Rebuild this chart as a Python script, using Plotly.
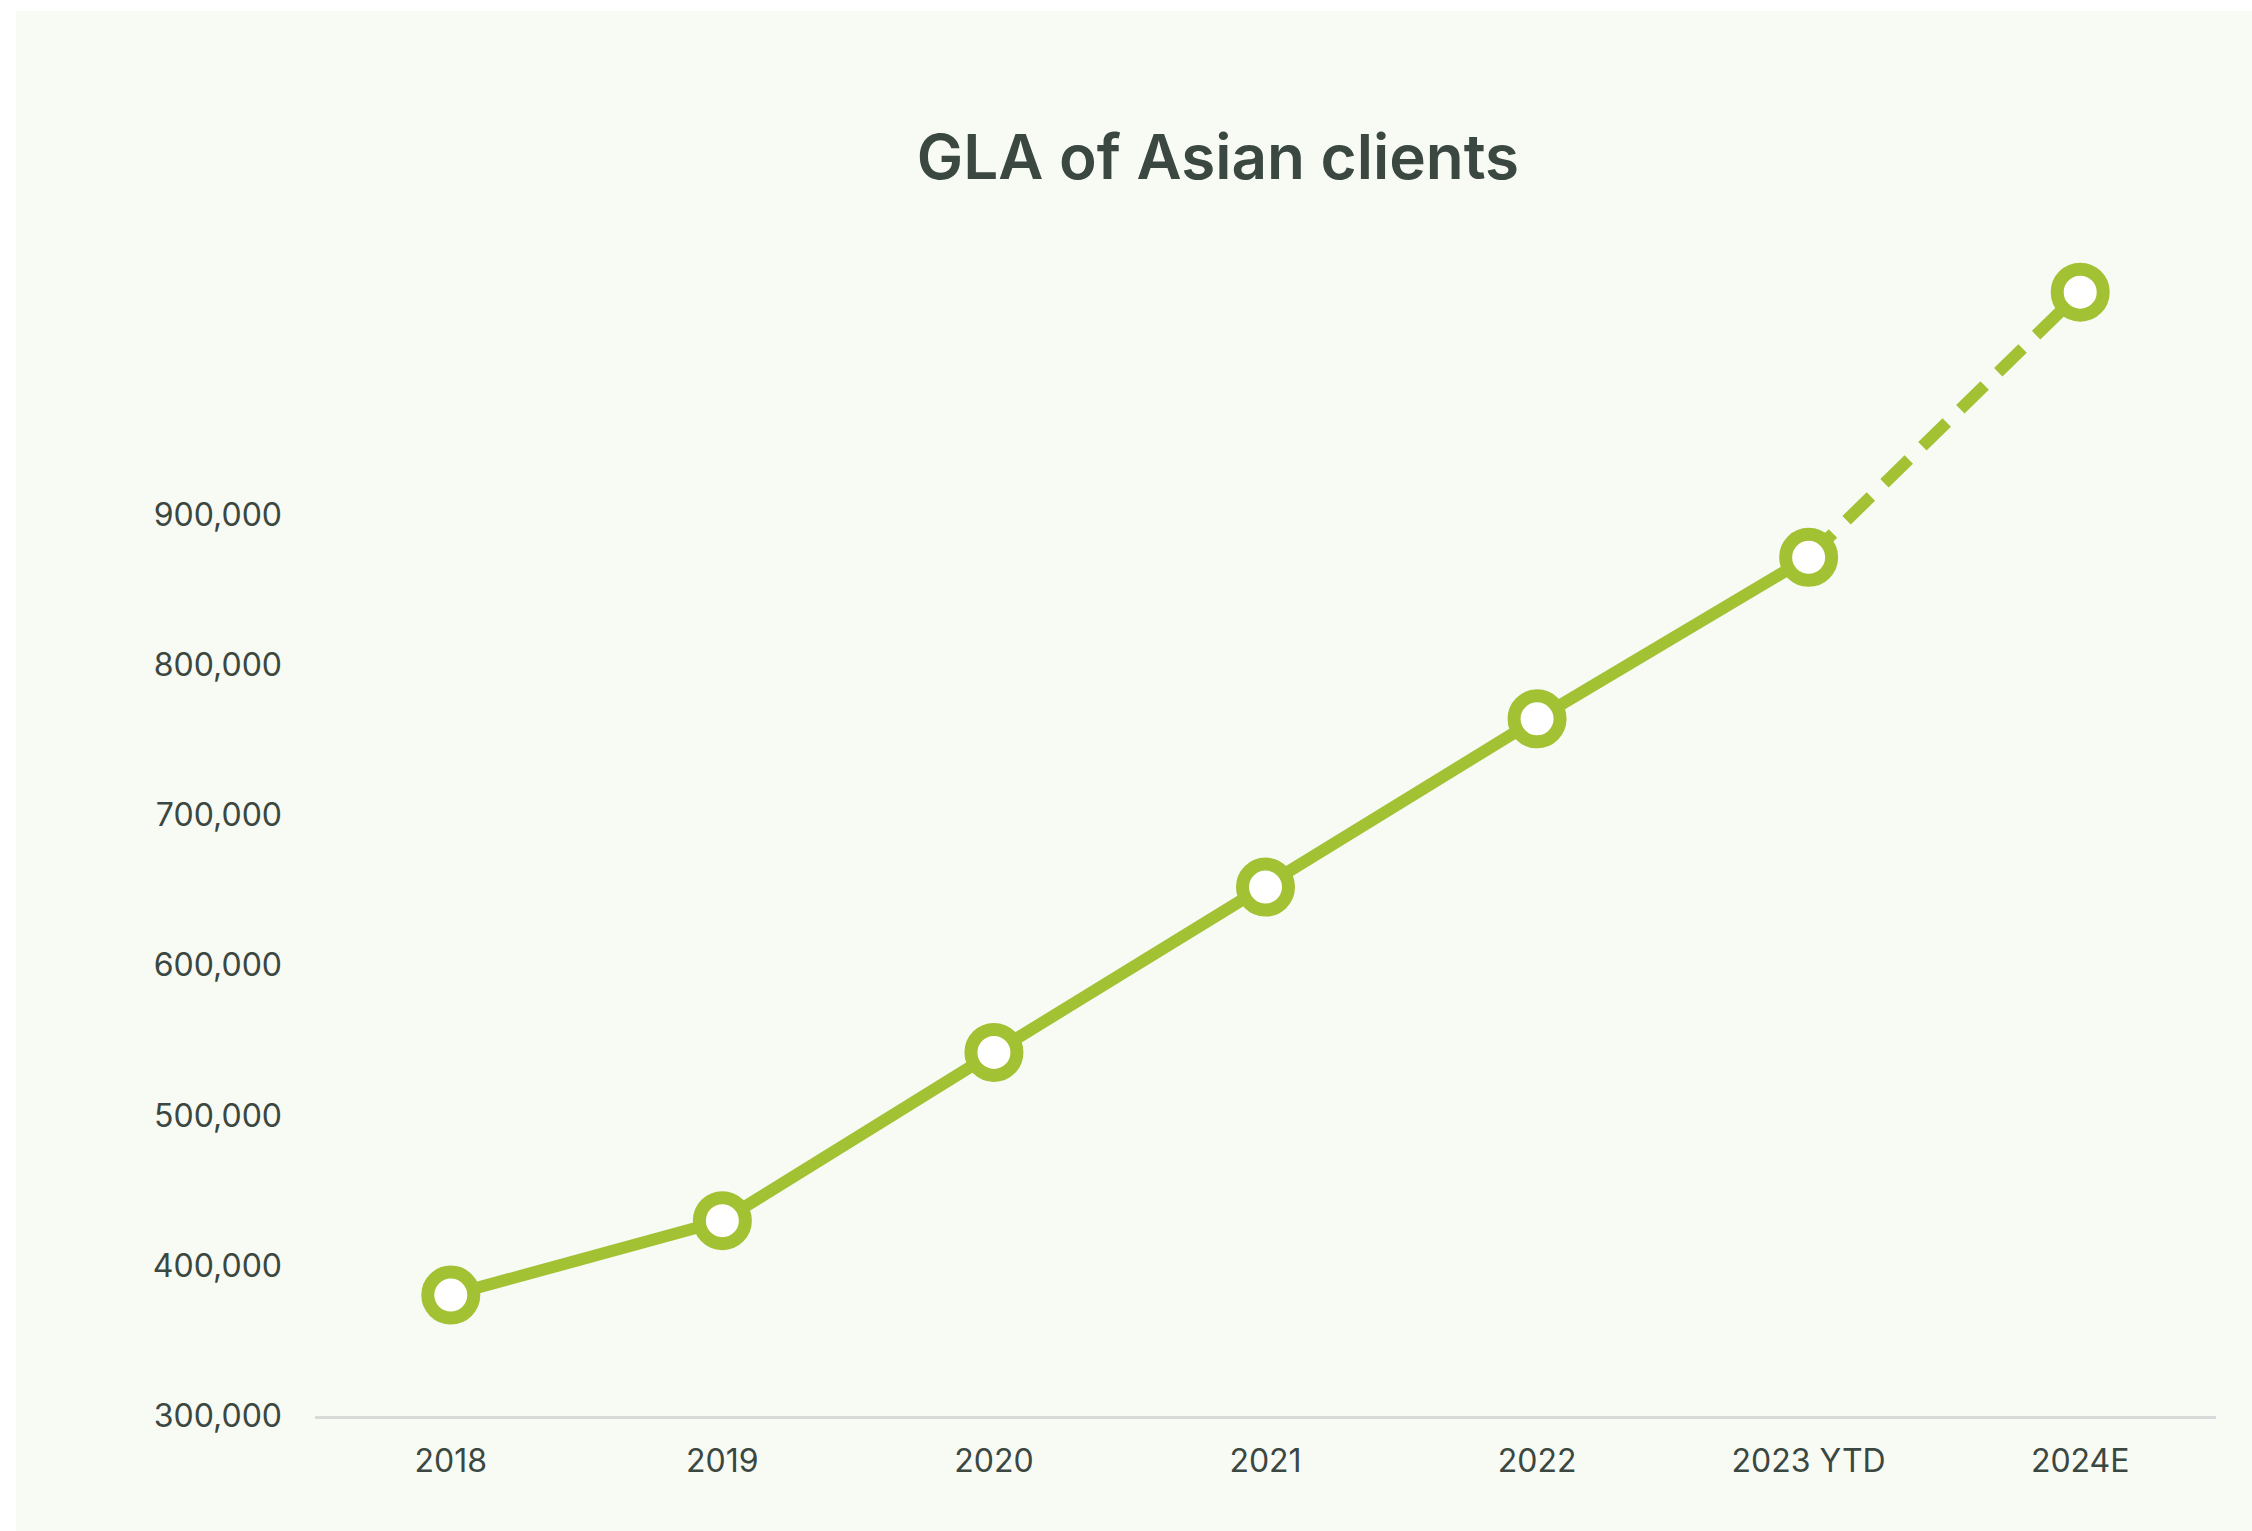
import plotly.graph_objects as go

# Data
years = ["2018", "2019", "2020", "2021", "2022", "2023 YTD", "2024E"]
gla = [380500, 430000, 542000, 652000, 764000, 871500, 1048000]
ytick_vals = [300000, 400000, 500000, 600000, 700000, 800000, 900000]
ytick_text = ["300,000", "400,000", "500,000", "600,000", "700,000", "800,000", "900,000"]
title_text = "GLA of Asian clients"

GREEN = "#a2c133"
TEXT = "#3b4741"
PANEL = "#f8faf4"

W, H = 2252, 1531
ml, mr, mb, mt = 315, 36, 115, 214
pw = W - ml - mr
ph = H - mt - mb

fig = go.Figure()

# solid actuals
fig.add_trace(go.Scatter(
    x=years[:6], y=gla[:6], mode="lines",
    line=dict(color=GREEN, width=12), hoverinfo="skip", showlegend=False))
# dashed estimate
fig.add_trace(go.Scatter(
    x=years[5:], y=gla[5:], mode="lines",
    line=dict(color=GREEN, width=12, dash="34px,19px"), hoverinfo="skip", showlegend=False))
# markers
fig.add_trace(go.Scatter(
    x=years, y=gla, mode="markers",
    marker=dict(symbol="circle", size=46, color="white", line=dict(color=GREEN, width=13)),
    showlegend=False))

# panel background
fig.add_shape(type="rect", xref="paper", yref="paper",
              x0=(16 - ml) / pw, x1=(W - ml) / pw,
              y0=-(mb) / ph, y1=(H - mb - 11) / ph,
              fillcolor=PANEL, line=dict(width=0), layer="below")

fig.update_layout(
    width=W, height=H,
    margin=dict(l=ml, r=mr, t=mt, b=mb, pad=0),
    paper_bgcolor="white",
    plot_bgcolor="rgba(0,0,0,0)",
    title=dict(text=title_text, x=1218 / W, xanchor="center",
               y=1 - 157 / H, yanchor="middle", yref="container",
               font=dict(family="Inter", size=62, color=TEXT, weight=600)),
    font=dict(family="Inter", color=TEXT),
)

fig.update_xaxes(
    type="category", range=[-0.5, 6.5],
    showgrid=False, zeroline=False,
    showline=True, linecolor="#d9d9d9", linewidth=3,
    ticks="", ticklabelstandoff=15,
    tickfont=dict(family="Inter", size=32, color=TEXT),
)
fig.update_yaxes(
    range=[300000, 1100000],
    tickvals=ytick_vals, ticktext=ytick_text,
    showgrid=False, zeroline=False, showline=False,
    ticks="", ticklabelstandoff=32,
    tickfont=dict(family="Inter", size=32, color=TEXT),
)

fig.write_html("out.html")
